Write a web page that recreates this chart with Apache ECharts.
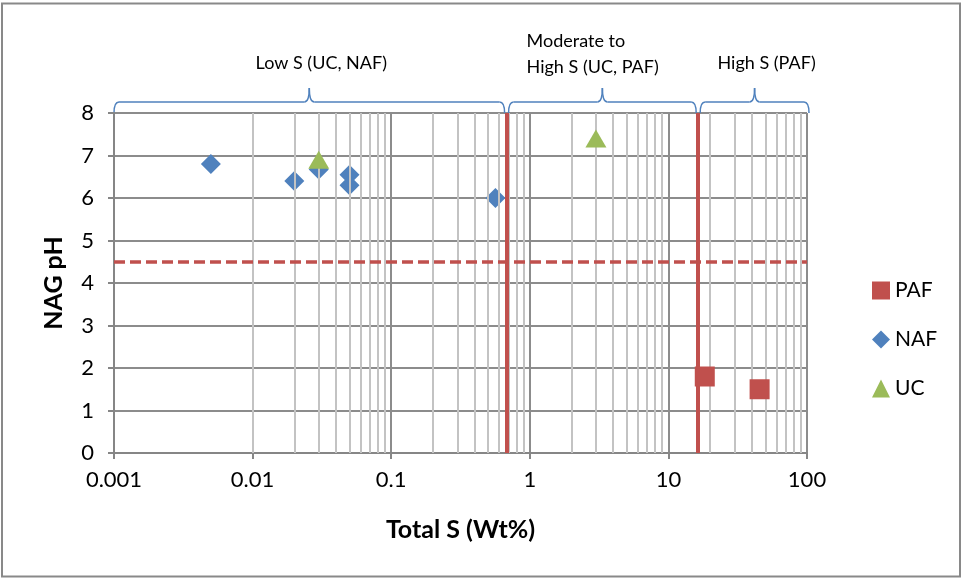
<!DOCTYPE html>
<html>
<head>
<meta charset="utf-8">
<script src="https://cdn.jsdelivr.net/npm/echarts@6/dist/echarts.min.js"></script>
<style>
  html, body { margin: 0; padding: 0; background: #fff; }
  #chart { width: 962px; height: 580px; }
</style>
</head>
<body>
<div id="chart"></div>
<script>
// data
const pafData = [[18.3, 1.8], [45.5, 1.5]];
const nafData = [[0.005, 6.8], [0.02, 6.4], [0.03, 6.67], [0.05, 6.55], [0.05, 6.3], [0.565, 6.0]];
const ucData = [[0.03, 6.9], [3.0, 7.4]];
const thresholdsS = [0.68, 16.4];
const thresholdPH = 4.5;
const zones = [
  { from: 0.001, to: 0.68, text: "Low S (UC, NAF)" },
  { from: 0.68, to: 16.4, text: "Moderate to\nHigh S (UC, PAF)" },
  { from: 16.4, to: 100, text: "High S (PAF)" }
];

// minor log gridlines (2..9 x each decade)
const minorX = [];
for (let e = -3; e < 2; e++) {
  for (let m = 2; m <= 9; m++) minorX.push(+(m * Math.pow(10, e)).toPrecision(3));
}

const FONT = "Lato";
const RED = "#c0504d";
const BLUE = "#4f81bd";

const chart = echarts.init(document.getElementById("chart"));

const options = {
  animation: false,
  textStyle: { fontFamily: FONT },
  grid: { left: 114, right: 155, top: 113, bottom: 127 },
  xAxis: {
    type: "log",
    min: 0.001,
    max: 100,
    logBase: 10,
    name: "Total S (Wt%)",
    nameLocation: "middle",
    nameGap: 64,
    nameTextStyle: { fontSize: 25, fontWeight: "bold", color: "#000", fontFamily: FONT },
    axisLine: { show: true, onZero: false, lineStyle: { color: "#868686", width: 2 } },
    axisTick: { show: true, length: 6, lineStyle: { color: "#868686", width: 2 } },
    axisLabel: {
      fontSize: 22, color: "#000", margin: 16,
      formatter: v => String(+v.toPrecision(3))
    },
    splitLine: { show: true, lineStyle: { color: "#8c8c8c", width: 2 } }
  },
  yAxis: {
    type: "value",
    min: 0,
    max: 8,
    interval: 1,
    name: "NAG pH",
    nameLocation: "middle",
    nameGap: 48,
    nameTextStyle: { fontSize: 25, fontWeight: "bold", color: "#000", fontFamily: FONT },
    axisLine: { show: true, lineStyle: { color: "#868686", width: 2 } },
    axisTick: { show: true, length: 6, lineStyle: { color: "#868686", width: 2 } },
    axisLabel: { fontSize: 22, color: "#000", margin: 20 },
    splitLine: { show: true, lineStyle: { color: "#8c8c8c", width: 2 } }
  },
  legend: {
    orient: "vertical",
    left: 867,
    top: 275,
    itemWidth: 18,
    itemHeight: 18,
    itemGap: 28,
    textStyle: { fontSize: 21, color: "#000", fontFamily: FONT, lineHeight: 18 },
    data: [
      { name: "PAF", icon: "rect" },
      { name: "NAF", icon: "diamond" },
      { name: "UC", icon: "triangle" }
    ]
  },
  series: [
    {
      name: "minor",
      type: "scatter",
      data: [],
      silent: true,
      z: 1,
      markLine: {
        silent: true,
        symbol: "none",
        label: { show: false },
        lineStyle: { color: "#c3c3c3", width: 2, type: "solid" },
        data: minorX.map(v => ({ xAxis: v }))
      }
    },
    {
      name: "thresholds",
      type: "scatter",
      data: [],
      silent: true,
      z: 2,
      markLine: {
        silent: true,
        symbol: "none",
        label: { show: false },
        data: [
          ...thresholdsS.map(v => ({ xAxis: v, lineStyle: { color: RED, width: 4, type: "solid" } })),
          { yAxis: thresholdPH, lineStyle: { color: RED, width: 3.5, type: [11, 5] } }
        ]
      }
    },
    {
      name: "PAF",
      type: "scatter",
      symbol: "rect",
      symbolSize: 20,
      itemStyle: { color: RED, opacity: 1 },
      data: pafData,
      z: 5
    },
    {
      name: "NAF",
      type: "scatter",
      symbol: "diamond",
      symbolSize: 20,
      itemStyle: { color: BLUE, opacity: 1 },
      data: nafData,
      z: 4
    },
    {
      name: "UC",
      type: "scatter",
      symbol: "triangle",
      symbolSize: [21, 18],
      itemStyle: { color: "#9bbb59", opacity: 1 },
      data: ucData,
      z: 5
    }
  ]
};

chart.setOption(options);

// braces and zone labels above the plot
const braceStyle = { stroke: BLUE, lineWidth: 1.5, fill: "none" };
function braceParts(x0, x1, xm, yb, yEnd, yPeak) {
  const r = 5;
  const curve = (a, b, c, d, cx, cy) => ({
    type: "bezierCurve",
    shape: { x1: a, y1: b, x2: c, y2: d, cpx1: cx, cpy1: cy },
    style: braceStyle,
    silent: true
  });
  const line = (a, b, c, d) => ({
    type: "line",
    shape: { x1: a, y1: b, x2: c, y2: d },
    style: braceStyle,
    silent: true
  });
  return [
    curve(x0, yEnd, x0 + r, yb, x0, yb),
    line(x0 + r, yb, xm - r, yb),
    curve(xm - r, yb, xm, yPeak, xm, yb),
    curve(xm, yPeak, xm + r, yb, xm, yb),
    line(xm + r, yb, x1 - r, yb),
    curve(x1 - r, yb, x1, yEnd, x1, yb)
  ];
}

const px = v => chart.convertToPixel({ xAxisIndex: 0 }, v);
let graphics = [
  {
    type: "rect",
    shape: { x: 2, y: 3.5, width: 958, height: 573 },
    style: { fill: "none", stroke: "#898989", lineWidth: 2 },
    silent: true
  }
];
zones.forEach((z, i) => {
  const x0 = px(z.from) + (i === 0 ? 0 : 2);
  const x1 = px(z.to) - (i === zones.length - 1 ? -2 : 2);
  const xm = (x0 + x1) / 2;
  graphics = graphics.concat(braceParts(x0, x1, xm, 102, 113, 88));
  const multi = z.text.indexOf("\n") >= 0;
  graphics.push({
    type: "text",
    x: multi ? x0 + 18 : xm + 12,
    y: multi ? 54 : 63,
    style: {
      text: z.text,
      fontFamily: FONT,
      fontSize: 18,
      fill: "#000",
      align: multi ? "left" : "center",
      verticalAlign: "middle",
      lineHeight: 26
    },
    silent: true
  });
});
chart.setOption({ graphic: graphics });

window.addEventListener("resize", () => {
  chart.resize();
});
</script>
</body>
</html>
